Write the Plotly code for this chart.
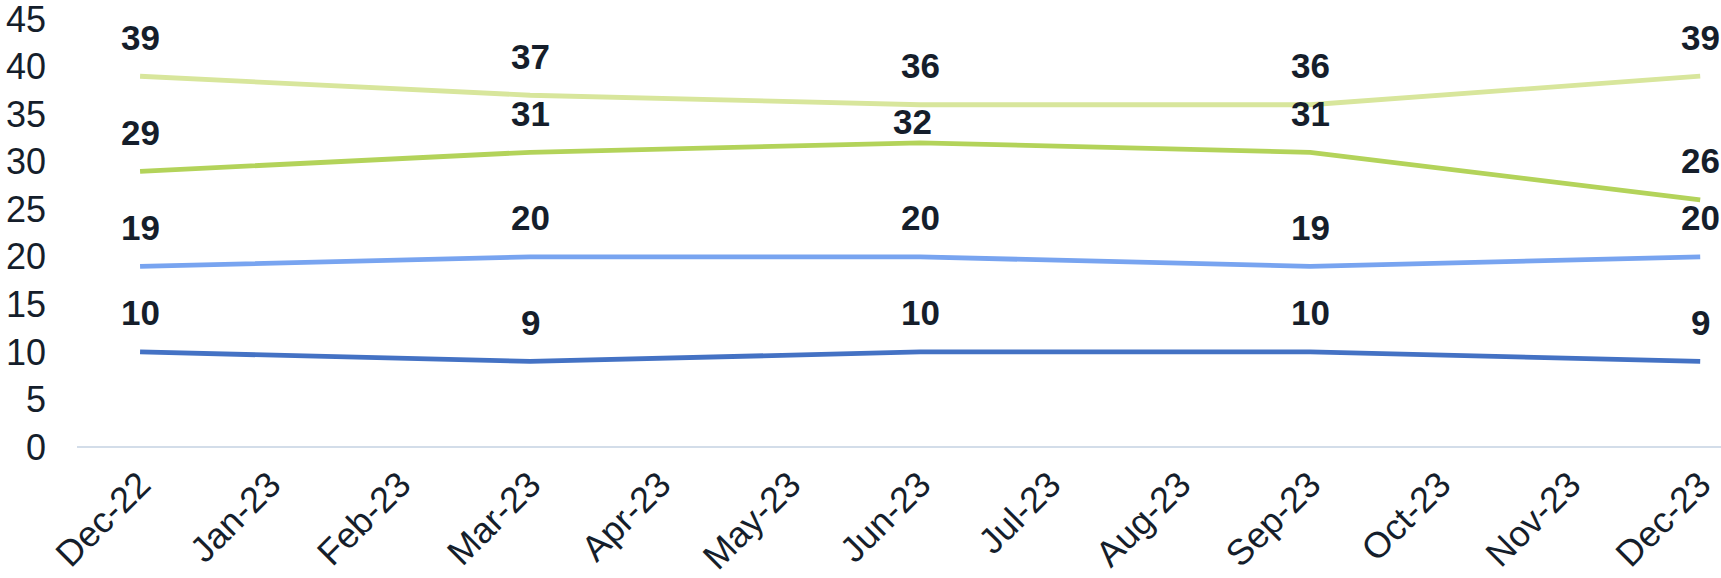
import plotly.graph_objects as go

months = ["Dec-22", "Jan-23", "Feb-23", "Mar-23", "Apr-23", "May-23", "Jun-23",
          "Jul-23", "Aug-23", "Sep-23", "Oct-23", "Nov-23", "Dec-23"]
points = ["Dec-22", "Mar-23", "Jun-23", "Sep-23", "Dec-23"]
series_a = [39, 37, 36, 36, 39]
series_b = [29, 31, 32, 31, 26]
series_c = [19, 20, 20, 19, 20]
series_d = [10, 9, 10, 10, 9]
colors = ["#d8e69c", "#b3d35a", "#78a4f0", "#4472c4"]

# label placement tweak (style only): series index, point index -> (xshift, yshift)
label_tweaks = {(1, 2): (-8, 21)}

idx = [months.index(p) for p in points]
fig = go.Figure()
annotations = []
for si, (vals, col) in enumerate(zip([series_a, series_b, series_c, series_d], colors)):
    fig.add_trace(go.Scatter(x=idx, y=vals, mode="lines",
                             line=dict(color=col, width=4.8), showlegend=False,
                             hoverinfo="skip", cliponaxis=False))
    for pi, (xi, v) in enumerate(zip(idx, vals)):
        xs, ys = label_tweaks.get((si, pi), (0, 39))
        annotations.append(dict(x=xi, y=v, text=f"<b>{v}</b>", showarrow=False,
                                xshift=xs, yshift=ys,
                                font=dict(size=35, color="#151e2b",
                                          family="Liberation Sans, Arial")))

fig.update_layout(
    width=1721, height=578,
    margin=dict(l=77, r=0, t=19, b=131, autoexpand=False),
    plot_bgcolor="white", paper_bgcolor="white",
    font=dict(family="Liberation Sans, Arial", color="#151e2b", size=35),
    annotations=annotations,
    xaxis=dict(tickmode="array", tickvals=list(range(len(months))), ticktext=months,
               range=[-0.485, 12.16], tickangle=-45, showgrid=False, zeroline=False,
               showline=False, tickfont=dict(size=36), ticks="", ticklabelstandoff=8,
               automargin=False, ticklabeloverflow="allow"),
    yaxis=dict(range=[0, 45.02], tickvals=[0, 5, 10, 15, 20, 25, 30, 35, 40, 45],
               showgrid=False, zeroline=True,
               zerolinecolor="#d3dde9", zerolinewidth=2, showline=False,
               tickfont=dict(size=36), ticks="", ticklabelstandoff=30, automargin=False,
               ticklabeloverflow="allow"),
)
fig.write_html("out.html", config={"displayModeBar": False},
               post_script="document.body.style.margin='0px';document.body.style.overflow='hidden';")
